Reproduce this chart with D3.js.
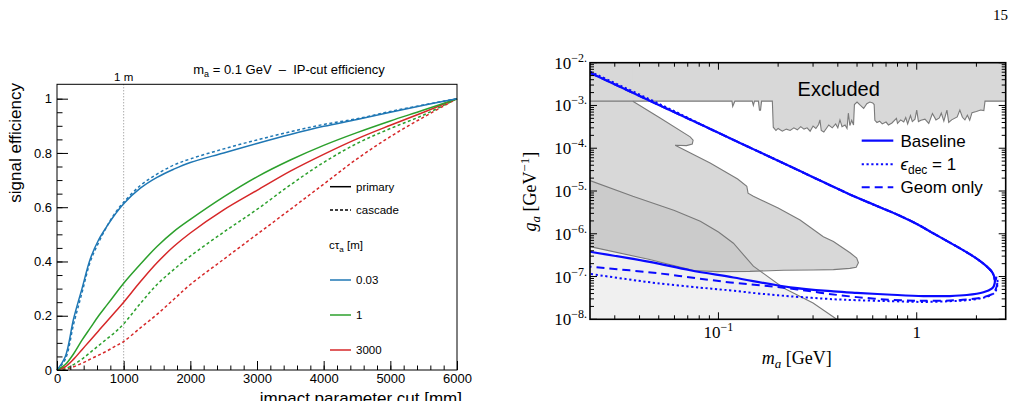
<!DOCTYPE html>
<html><head><meta charset="utf-8">
<script src="https://cdn.jsdelivr.net/npm/d3@7"></script>
<style>body{margin:0;background:#fff}svg{display:block}</style>
</head><body>
<svg id="c" width="1015" height="401"></svg>
<script>
// ---------- Left panel data ----------
const cutMM = [0,125,250,375,500,625,750,875,1000,1250,1500,1750,2000,2500,3000,3500,4000,4500,5000,5500,6000];
const bluePrimary   = [0,0.05,0.19,0.30,0.41,0.48,0.53,0.575,0.613,0.67,0.71,0.74,0.765,0.80,0.835,0.868,0.898,0.923,0.95,0.976,1];
const blueCascade   = [0,0.04,0.17,0.285,0.40,0.47,0.53,0.58,0.618,0.68,0.722,0.755,0.778,0.815,0.848,0.878,0.905,0.926,0.953,0.977,1];
const greenPrimary  = [0,0.02,0.06,0.11,0.155,0.20,0.24,0.28,0.32,0.39,0.455,0.51,0.555,0.638,0.712,0.774,0.828,0.875,0.918,0.958,1];
const greenCascade  = [0,0.005,0.02,0.04,0.065,0.09,0.115,0.14,0.17,0.245,0.315,0.37,0.42,0.508,0.592,0.682,0.765,0.835,0.89,0.94,1];
const redPrimary    = [0,0.012,0.04,0.075,0.11,0.145,0.18,0.215,0.25,0.325,0.395,0.455,0.505,0.59,0.662,0.733,0.795,0.852,0.902,0.95,1];
const redCascade    = [0,0.003,0.012,0.025,0.04,0.055,0.07,0.088,0.105,0.155,0.205,0.26,0.315,0.408,0.50,0.592,0.685,0.778,0.86,0.932,1];
const effTicks = [0,0.2,0.4,0.6,0.8,1];
const cutTicks = [0,1000,2000,3000,4000,5000,6000];
const tauLabels = ["0.03","1","3000"];
const tauColors = ["#1f77b4","#2ca02c","#d62728"];

// ---------- Right panel data ----------
const exclM = [0.0225,0.0225,0.037,0.117,0.118,0.121,0.148,0.150,0.152,0.159,0.161,0.163,0.165,0.187,0.189,0.195,0.20,0.21,0.22,0.23,0.24,0.25,0.26,0.27,0.28,0.29,0.30,0.31,0.32,0.325,0.33,0.34,0.35,0.36,0.375,0.39,0.40,0.41,0.42,0.435,0.445,0.452,0.46,0.47,0.48,0.485,0.50,0.52,0.54,0.56,0.58,0.60,0.61,0.615,0.63,0.65,0.67,0.70,0.72,0.75,0.79,0.80,0.83,0.86,0.88,0.90,0.93,0.95,0.98,1.0,1.02,1.05,1.1,1.15,1.2,1.25,1.3,1.33,1.37,1.42,1.45,1.5,1.6,1.65,1.7,1.75,1.8,1.85,1.9,2.0,2.1,2.18,2.21,2.81,2.81];
const exclG = [1e-2,1.26e-3,1.26e-3,1.26e-3,9.5e-4,1.26e-3,1.26e-3,1.0e-3,1.26e-3,1.26e-3,7.8e-4,7.8e-4,1.26e-3,1.26e-3,3.1e-4,2.6e-4,2.9e-4,2.5e-4,2.8e-4,2.6e-4,3.0e-4,2.7e-4,3.2e-4,2.8e-4,3.0e-4,2.5e-4,3.3e-4,2.9e-4,3.6e-4,4.6e-4,2.6e-4,2.4e-4,2.9e-4,3.5e-4,3.0e-4,3.7e-4,3.0e-4,4.6e-4,3.2e-4,3.5e-4,2.9e-4,6.6e-4,3.4e-4,4.5e-4,3.5e-4,1.05e-3,1.2e-3,1.0e-3,8.5e-4,1.1e-3,1.2e-3,1.15e-3,1.05e-3,4.5e-4,4.0e-4,4.3e-4,3.7e-4,4.1e-4,3.5e-4,3.9e-4,5.0e-4,3.8e-4,4.6e-4,4.1e-4,5.2e-4,3.7e-4,5.8e-4,4.2e-4,4.8e-4,7.8e-4,4.2e-4,4.5e-4,4.8e-4,3.8e-4,6.5e-4,4.6e-4,5.1e-4,6.6e-4,4.3e-4,7.8e-4,4.0e-4,4.6e-4,5.4e-4,7.8e-4,5.3e-4,4.6e-4,5.9e-4,4.5e-4,6.8e-4,7.2e-4,7.8e-4,7.6e-4,1.26e-3,1.26e-3,1e-2];

const regionAM = [0.037,0.0508,0.072,0.0745,0.0738,0.069,0.0605,0.0908,0.125,0.139,0.141,0.150,0.2,0.258,0.338,0.38,0.461,0.498,0.508,0.495,0.46,0.38,0.30,0.213,0.144,0.098,0.075,0.045,0.0225];
const regionAG = [1.26e-3,5.1e-4,1.85e-4,1.55e-4,1.25e-4,1.15e-4,1.17e-4,4.5e-5,1.9e-5,1.29e-5,8.9e-6,7.5e-6,4e-6,2.1e-6,8.5e-7,6.6e-7,3.6e-7,2.7e-7,2.1e-7,1.65e-7,1.55e-7,1.45e-7,1.42e-7,1.4e-7,1.32e-7,1.3e-7,1.38e-7,2.5e-7,5e-7];

const regionBM = [0.0225,0.037,0.06,0.081,0.1,0.119,0.15,0.213,0.30,0.395];
const regionBG = [1.75e-5,7.5e-6,3.5e-6,1.95e-6,1.1e-6,6e-7,1.75e-7,5.4e-8,2.4e-8,1e-8];

const upperM = [0.0225,0.05,0.1,0.2,0.3,0.443,0.6,0.8,1.0,1.2,1.47,1.86,2.17,2.39,2.46,2.48];
const upperG = [5.8e-3,1.03e-3,2.29e-4,5.1e-5,2.1e-5,9e-6,4.9e-6,2.8e-6,1.7e-6,1.05e-6,6.2e-7,3.3e-7,2e-7,1.3e-7,1e-7,8e-8];
const baseLowM = [2.45,2.39,2.17,1.79,1.47,1.08,0.75,0.498,0.38,0.23,0.119,0.072,0.045,0.0225];
const baseLowG = [6e-8,5.2e-8,4.3e-8,3.7e-8,3.5e-8,3.5e-8,3.75e-8,4.15e-8,4.5e-8,5.6e-8,9.5e-8,1.4e-7,2.2e-7,3.8e-7];
const decLowM = [2.53,2.555,2.55,2.53,2.44,2.17,1.79,1.47,1.08,0.75,0.5,0.38,0.23,0.175,0.106,0.081,0.049,0.037,0.0225];
const decLowG = [9.5e-8,8e-8,6.5e-8,5.2e-8,4e-8,3.2e-8,2.8e-8,2.65e-8,2.55e-8,2.65e-8,2.8e-8,2.95e-8,3.45e-8,3.85e-8,4.9e-8,5.5e-8,7e-8,8.3e-8,1.15e-7];
const geomLowM = [2.53,2.55,2.54,2.5,2.44,2.17,1.79,1.47,1.08,0.75,0.5,0.35,0.25,0.19,0.106,0.049,0.0225];
const geomLowG = [9.5e-8,8e-8,6.3e-8,5e-8,4.1e-8,3.3e-8,2.9e-8,2.75e-8,2.7e-8,2.85e-8,3.3e-8,4e-8,5e-8,5.8e-8,7.6e-8,1.2e-7,1.7e-7];
const gExponents = [-8,-7,-6,-5,-4,-3,-2];
const massMajor = [0.1,1];

// ================= drawing =================
const svg = d3.select("#c");
const SANS = "'Liberation Sans', Arial, sans-serif";
const SERIF = "'Liberation Serif', 'Times New Roman', serif";

svg.append("text").attr("x",1008).attr("y",20).attr("text-anchor","end")
  .attr("font-family",SERIF).attr("font-size",15).text("15");

// ---------- LEFT ----------
const xL = d3.scaleLinear().domain([0,6000]).range([57,457]);
const yL = d3.scaleLinear().domain([0,1.053]).range([370,84.3]);
const L = svg.append("g");

L.append("line").attr("x1",xL(1000)).attr("x2",xL(1000)).attr("y1",yL(1.053)).attr("y2",yL(0))
  .attr("stroke","#888").attr("stroke-width",1).attr("stroke-dasharray","1,2");

const lineL = d3.line().x((d,i)=>xL(cutMM[i])).y(d=>yL(d)).curve(d3.curveCatmullRom.alpha(0.5));
const series = [
  [redCascade,"#d62728",true],[greenCascade,"#2ca02c",true],[blueCascade,"#1f77b4",true],
  [redPrimary,"#d62728",false],[greenPrimary,"#2ca02c",false],[bluePrimary,"#1f77b4",false]];
series.forEach(([v,c,dash])=>{
  L.append("path").attr("d",lineL(v)).attr("fill","none").attr("stroke",c)
   .attr("stroke-width",1.5).attr("stroke-dasharray",dash?"3,2.5":null);
});

L.append("rect").attr("x",57).attr("y",84.3).attr("width",400).attr("height",285.7)
  .attr("fill","none").attr("stroke","#000").attr("stroke-width",1);

// y axis
const yAx = L.append("g").attr("transform","translate(57,0)")
  .call(d3.axisLeft(yL).tickValues(effTicks).tickSize(-11).tickPadding(4)
     .tickFormat(d=> d===0?"0":d===1?"1":d3.format(".1f")(d)));
const yMin = L.append("g").attr("transform","translate(57,0)")
  .call(d3.axisLeft(yL).tickValues(d3.range(0,21).map(i=>i*0.05)).tickSize(-5.5).tickFormat(""));
const xAx = L.append("g").attr("transform","translate(0,370)")
  .call(d3.axisBottom(xL).tickValues(cutTicks).tickSize(-9).tickPadding(4).tickFormat(d3.format("d")));
const xMin = L.append("g").attr("transform","translate(0,370)")
  .call(d3.axisBottom(xL).tickValues(d3.range(0,31).map(i=>i*200)).tickSize(-4.5).tickFormat(""));
[yAx,yMin,xAx,xMin].forEach(g=>{g.select(".domain").remove();
  g.selectAll("line").attr("stroke","#000");
  g.selectAll("text").attr("font-family",SANS).attr("font-size",13).attr("fill","#000");});
yAx.selectAll("text").attr("dx",-1);

L.append("text").attr("transform","translate(20.5,83) rotate(-90)").attr("text-anchor","end")
  .attr("font-family",SANS).attr("font-size",17).text("signal efficiency");
L.append("text").attr("x",462).attr("y",404).attr("text-anchor","end")
  .attr("font-family",SANS).attr("font-size",17).text("impact parameter cut [mm]");
const tt = L.append("text").attr("x",289).attr("y",74).attr("text-anchor","middle")
  .attr("font-family",SANS).attr("font-size",13);
tt.append("tspan").text("m");
tt.append("tspan").attr("font-size",9).attr("dy",3).text("a");
tt.append("tspan").attr("dy",-3).text(" = 0.1 GeV\u00a0\u00a0\u2013\u00a0\u00a0IP-cut efficiency");
L.append("text").attr("x",xL(1000)).attr("y",81).attr("text-anchor","middle")
  .attr("font-family",SANS).attr("font-size",11.5).text("1 m");

// legend left
const lg = L.append("g").attr("font-family",SANS).attr("font-size",11.5);
const legRows = [
  {y:186.7, dash:false, c:"#000", t:"primary"},
  {y:210, dash:true, c:"#000", t:"cascade"},
  {y:280, dash:false, c:tauColors[0], t:tauLabels[0]},
  {y:315, dash:false, c:tauColors[1], t:tauLabels[1]},
  {y:350, dash:false, c:tauColors[2], t:tauLabels[2]}];
legRows.forEach(r=>{
  lg.append("line").attr("x1",330).attr("x2",351).attr("y1",r.y).attr("y2",r.y)
    .attr("stroke",r.c).attr("stroke-width",1.5).attr("stroke-dasharray",r.dash?"3,2":null);
  lg.append("text").attr("x",356).attr("y",r.y).attr("dy","0.35em").text(r.t);
});
const ct = lg.append("text").attr("x",329).attr("y",245).attr("dy","0.35em");
ct.append("tspan").text("c\u03c4");
ct.append("tspan").attr("font-size",8).attr("dy",3).text("a");
ct.append("tspan").attr("dy",-3).text(" [m]");

// ---------- RIGHT ----------
const xR = d3.scaleLog().domain([0.0225,2.81]).range([590,1005.7]);
const yR = d3.scaleLog().domain([1e-8,1e-2]).range([319.3,62.7]);
const R = svg.append("g");
svg.append("defs").append("clipPath").attr("id","clipR").append("rect")
  .attr("x",590).attr("y",62.7).attr("width",415.7).attr("height",256.6);
const P = R.append("g").attr("clip-path","url(#clipR)");
const pt = (m,g)=>[xR(m),yR(g)];
const line2 = d3.line();

const FILL = "#d8d8d8", EDGE = "#7a7a7a";
P.append("path").attr("d", line2(exclM.map((m,i)=>pt(m,exclG[i])))+"Z").attr("fill",FILL);
const aPts = regionAM.map((m,i)=>pt(m,regionAG[i]));
P.append("path").attr("d", line2([...aPts, pt(0.0225,1e-2), pt(0.037,1e-2)])+"Z").attr("fill",FILL);
const bPts = regionBM.map((m,i)=>pt(m,regionBG[i]));
P.append("path").attr("d", line2([...bPts, pt(0.0225,1e-8)])+"Z").attr("fill","rgba(0,0,0,0.06)");
P.append("path").attr("d", line2(exclM.slice(1,-1).map((m,i)=>pt(m,exclG[i+1])))).attr("fill","none")
  .attr("stroke",EDGE).attr("stroke-width",1.1);
P.append("path").attr("d", line2(aPts)).attr("fill","none").attr("stroke",EDGE).attr("stroke-width",1.1);
P.append("path").attr("d", line2(bPts)).attr("fill","none").attr("stroke",EDGE).attr("stroke-width",1.1);

const curveLine = d3.line().curve(d3.curveCatmullRom.alpha(0.5));
const upperPts = upperM.map((m,i)=>pt(m,upperG[i]));
const decUpper = upperM.map((m,i)=>pt(m,upperG[i]*(m<0.06?1.07:1)));
const BLUE = "#0a0aff";
P.append("path").attr("d", curveLine([...decUpper, ...decLowM.map((m,i)=>pt(m,decLowG[i]))]))
  .attr("fill","none").attr("stroke",BLUE).attr("stroke-width",2).attr("stroke-dasharray","2.2,2.6");
P.append("path").attr("d", curveLine([...upperPts, ...geomLowM.map((m,i)=>pt(m,geomLowG[i]))]))
  .attr("fill","none").attr("stroke",BLUE).attr("stroke-width",2).attr("stroke-dasharray","8,5");
P.append("path").attr("d", curveLine([...upperPts, ...baseLowM.map((m,i)=>pt(m,baseLowG[i]))]))
  .attr("fill","none").attr("stroke",BLUE).attr("stroke-width",2.2);

R.append("rect").attr("x",590).attr("y",62.7).attr("width",415.7).attr("height",256.6)
  .attr("fill","none").attr("stroke","#000").attr("stroke-width",1.6);

const tk = R.append("g").attr("stroke","#000").attr("stroke-width",1);
gExponents.forEach(e=>{
  for(let k=1;k<=9;k++){
    const v = k*Math.pow(10,e);
    if(v>1e-2*1.0001) continue;
    const y = yR(v), len = k===1?7:4;
    tk.append("line").attr("x1",590).attr("x2",590+len).attr("y1",y).attr("y2",y);
    tk.append("line").attr("x1",1005.7).attr("x2",1005.7-len).attr("y1",y).attr("y2",y);
  }
});
[0.01,0.1,1].forEach(d=>{
  for(let k=1;k<=9;k++){
    const v=k*d;
    if(v<0.0225||v>2.81) continue;
    const x=xR(v), len=k===1?7:4;
    tk.append("line").attr("x1",x).attr("x2",x).attr("y1",319.3).attr("y2",319.3-len);
    tk.append("line").attr("x1",x).attr("x2",x).attr("y1",62.7).attr("y2",62.7+len);
  }
});

gExponents.forEach(e=>{
  const t = R.append("text").attr("x",587).attr("y",yR(Math.pow(10,e))+6).attr("text-anchor","end")
    .attr("font-family",SERIF).attr("font-size",17);
  t.append("tspan").text("10");
  t.append("tspan").attr("font-size",12).attr("dy",-7).text("\u2212"+Math.abs(e)+".");
});
massMajor.forEach(m=>{
  const t = R.append("text").attr("x",xR(m)).attr("y",338).attr("text-anchor","middle")
    .attr("font-family",SERIF).attr("font-size",17);
  if(m===1){ t.text("1"); }
  else { t.append("tspan").text("10"); t.append("tspan").attr("font-size",12).attr("dy",-7).text("\u22121"); }
});

const yt = R.append("text").attr("transform","translate(536,191.7) rotate(-90)").attr("text-anchor","middle")
  .attr("font-family",SERIF).attr("font-size",18);
yt.append("tspan").attr("font-style","italic").text("g");
yt.append("tspan").attr("font-style","italic").attr("font-size",13).attr("dy",4).text("a");
yt.append("tspan").attr("dy",-4).text(" [GeV");
yt.append("tspan").attr("font-size",13).attr("dy",-7).text("\u22121");
yt.append("tspan").attr("dy",7).text("]");
const xt = R.append("text").attr("x",796.7).attr("y",364).attr("text-anchor","middle")
  .attr("font-family",SERIF).attr("font-size",18);
xt.append("tspan").attr("font-style","italic").text("m");
xt.append("tspan").attr("font-style","italic").attr("font-size",13).attr("dy",4).text("a");
xt.append("tspan").attr("dy",-4).text(" [GeV]");

R.append("text").attr("x",838.7).attr("y",96).attr("text-anchor","middle")
  .attr("font-family",SANS).attr("font-size",20).text("Excluded");

const rl = R.append("g").attr("font-family",SANS).attr("font-size",17);
[[140.7,null,2.2],[164.3,"2.2,2.6",2],[187.3,"8,5",2]].forEach(([y,da,w])=>{
  rl.append("line").attr("x1",861.7).attr("x2",893.3).attr("y1",y).attr("y2",y)
    .attr("stroke",BLUE).attr("stroke-width",w).attr("stroke-dasharray",da);
});
rl.append("text").attr("x",900.5).attr("y",140.7).attr("dy","0.35em").text("Baseline");
const et = rl.append("text").attr("x",900.5).attr("y",164.3).attr("dy","0.35em");
et.append("tspan").attr("font-style","italic").text("\u03f5");
et.append("tspan").attr("font-size",12).attr("dy",4).text("dec");
et.append("tspan").attr("dy",-4).text(" = 1");
rl.append("text").attr("x",900.5).attr("y",187.3).attr("dy","0.35em").text("Geom only");
</script>
</body></html>
